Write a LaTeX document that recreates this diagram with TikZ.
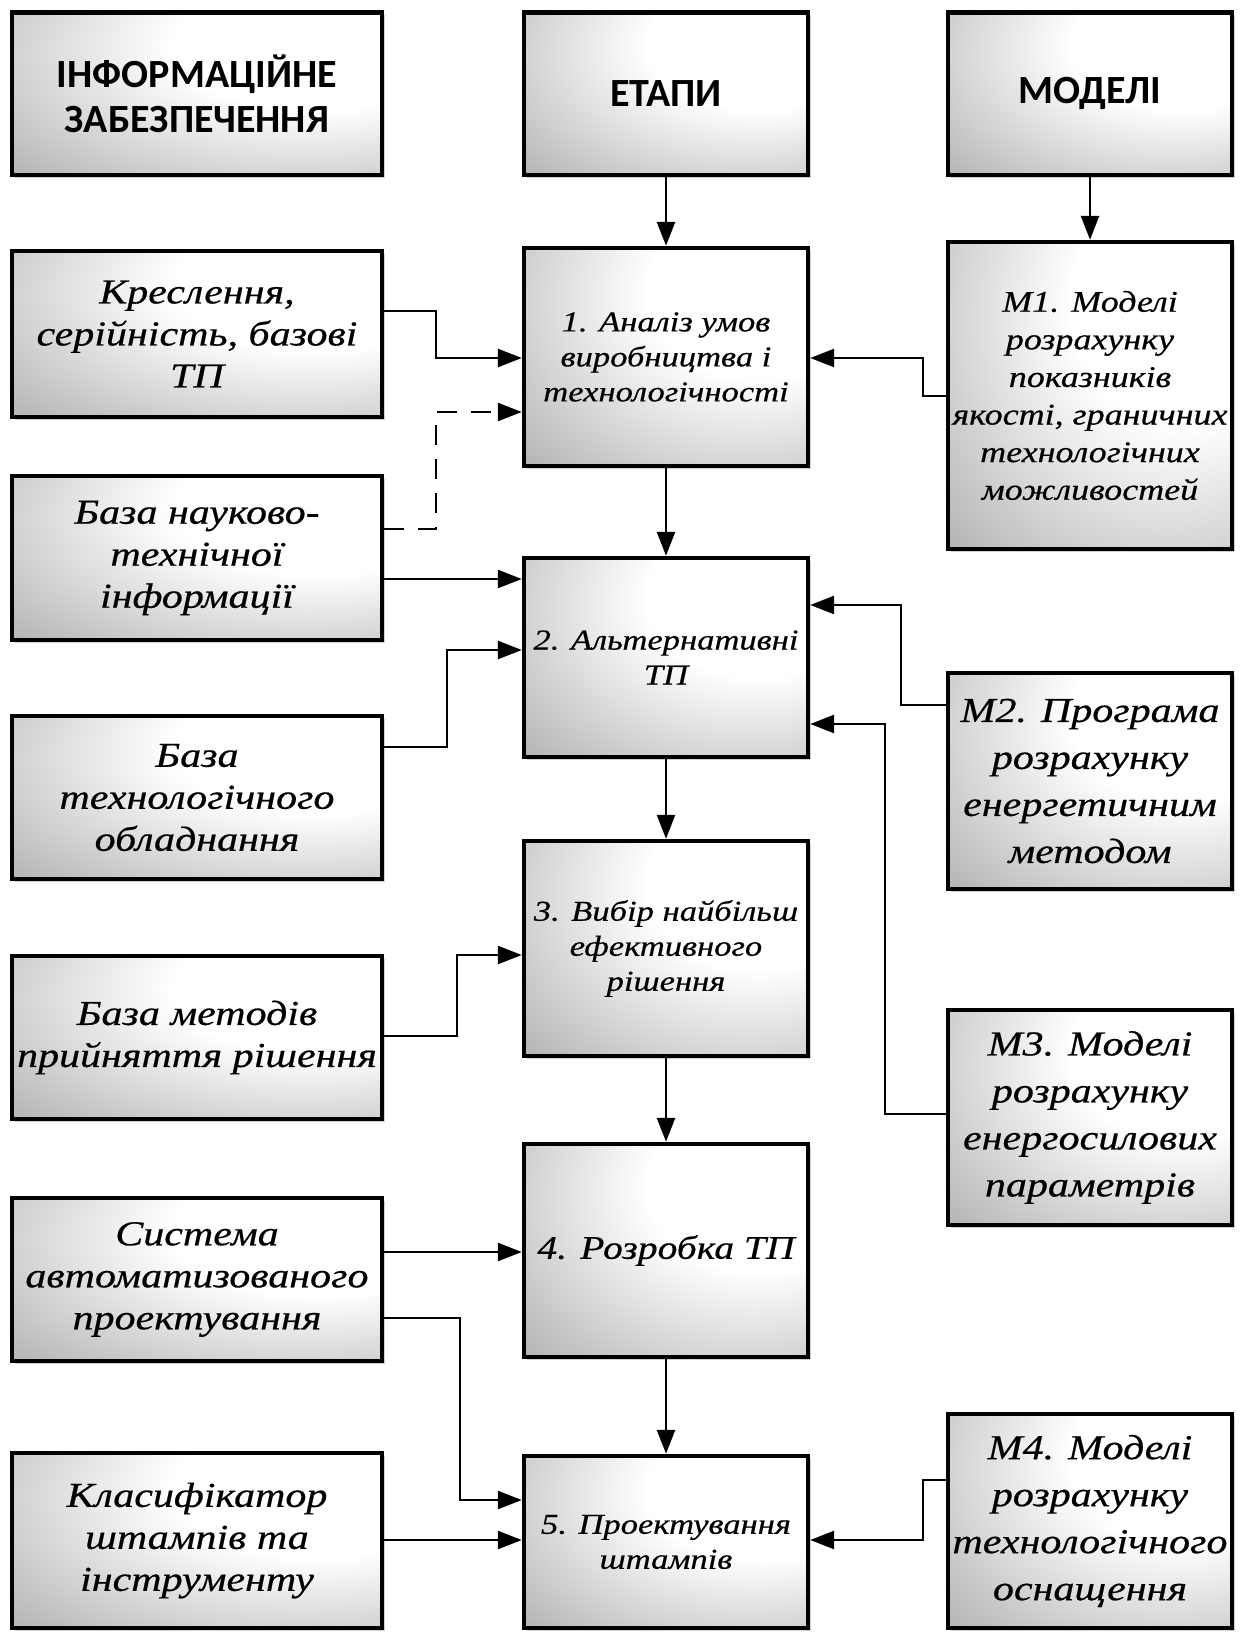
\documentclass[tikz,border=0pt]{standalone}
\usepackage{fontspec}
\setmainfont{Liberation Serif}[FakeStretch=1.2, FakeBold=0.5]
\newfontfamily\hdfont{Carlito}
\usetikzlibrary{arrows.meta,shadows}
\pgfdeclareradialshading{boxsh}{\pgfpoint{20bp}{18bp}}{color(0bp)=(white); color(20bp)=(white); color(62bp)=(black!40); color(85bp)=(black!48); color(120bp)=(black!48)}
\tikzset{
  box/.style={draw=black, line width=2.2pt, shading=boxsh, inner sep=0pt, align=center,
    drop shadow={shadow xshift=1.5pt, shadow yshift=-1.5pt, opacity=0.18, fill=black}},
  hdr/.style={font=\hdfont\bfseries\fontsize{20}{22.5}\selectfont},
  lt/.style={font=\itshape\fontsize{17.5}{21}\selectfont},
  st/.style={font=\itshape\fontsize{14.4}{17.5}\selectfont},
  bigst/.style={font=\itshape\fontsize{16.5}{21}\selectfont},
  mt/.style={font=\itshape\fontsize{15}{18.8}\selectfont},
  mbig/.style={font=\itshape\fontsize{17.5}{23.5}\selectfont},
  arr/.style={line width=1.3pt, -{Triangle[length=12pt,width=9pt]}},
  dsh/.style={arr, dash pattern=on 10pt off 7pt},
}
\newcommand\mybox[7]{%
  \node[box, #6, minimum width={(#4-#2)*0.5pt}, minimum height={(#5-#3)*0.5pt}] (#1) at ({(#2+#4)/2},{(#3+#5)/2}) {#7};}
\begin{document}
\begin{tikzpicture}[x=0.5pt, y=-0.5pt]
\useasboundingbox[fill=white] (0,0) rectangle (1240,1636);
% left column
\mybox{hL}{12}{12.5}{382}{175}{hdr}{ІНФОРМАЦІЙНЕ\\ЗАБЕЗПЕЧЕННЯ}
\mybox{kr}{12}{251}{382}{417}{lt}{Креслення,\\серійність, базові\\ТП}
\mybox{bn}{12}{476}{382}{640}{lt}{База науково-\\технічної\\інформації}
\mybox{bt}{12}{716}{382}{879}{lt}{База\\технологічного\\обладнання}
\mybox{bm}{12}{956}{382}{1119}{lt}{База методів\\прийняття рішення}
\mybox{sy}{12}{1198}{382}{1361}{lt}{Система\\автоматизованого\\проектування}
\mybox{kl}{12}{1453}{382}{1628}{lt}{Класифікатор\\штампів та\\інструменту}
% middle column
\mybox{hE}{524}{12.5}{808}{175}{hdr}{ЕТАПИ}
\mybox{s1}{524}{248}{808}{466}{st}{1. Аналіз умов\\виробництва і\\технологічності}
\mybox{s2}{524}{558}{808}{757}{st}{2. Альтернативні\\ТП}
\mybox{s3}{524}{841}{808}{1056}{st}{3. Вибір найбільш\\ефективного\\рішення}
\mybox{s4}{524}{1144}{808}{1357}{bigst}{4. Розробка ТП}
\mybox{s5}{524}{1456}{808}{1628}{st}{5. Проектування\\штампів}
% right column
\mybox{hM}{948}{12.5}{1232}{175}{hdr}{МОДЕЛІ}
\mybox{m1}{948}{242}{1232}{549}{mt}{М1. Моделі\\розрахунку\\показників\\якості, граничних\\технологічних\\можливостей}
\mybox{m2}{948}{673}{1232}{889}{mbig}{М2. Програма\\розрахунку\\енергетичним\\методом}
\mybox{m3}{948}{1010}{1232}{1225}{mbig}{М3. Моделі\\розрахунку\\енергосилових\\параметрів}
\mybox{m4}{948}{1414}{1232}{1628}{mbig}{М4. Моделі\\розрахунку\\технологічного\\оснащення}
% vertical connectors
\draw[arr] (hE.south) -- (s1.north);
\draw[arr] (hM.south) -- (m1.north);
\draw[arr] (s1.south) -- (s2.north);
\draw[arr] (s2.south) -- (s3.north);
\draw[arr] (s3.south) -- (s4.north);
\draw[arr] (s4.south) -- (s5.north);
% left connectors
\draw[arr] (kr.east |- 0,311) -- (436,311) |- (s1.west |- 0,358);
\draw[dsh] (bn.east |- 0,529) -- (436,529) |- (s1.west |- 0,412);
\draw[arr] (bn.east |- 0,579) -- (s2.west |- 0,579);
\draw[arr] (bt.east |- 0,747) -- (447,747) |- (s2.west |- 0,650);
\draw[arr] (bm.east |- 0,1036) -- (457,1036) |- (s3.west |- 0,955);
\draw[arr] (sy.east |- 0,1252) -- (s4.west |- 0,1252);
\draw[arr] (sy.east |- 0,1318) -- (460,1318) |- (s5.west |- 0,1500);
\draw[arr] (kl.east |- 0,1540) -- (s5.west |- 0,1540);
% right connectors
\draw[arr] (m1.west |- 0,396) -- (923,396) |- (s1.east |- 0,358);
\draw[arr] (m2.west |- 0,705) -- (901,705) |- (s2.east |- 0,605);
\draw[arr] (m3.west |- 0,1114) -- (885,1114) |- (s2.east |- 0,724);
\draw[arr] (m4.west |- 0,1480) -- (923,1480) |- (s5.east |- 0,1540);
\end{tikzpicture}
\end{document}
